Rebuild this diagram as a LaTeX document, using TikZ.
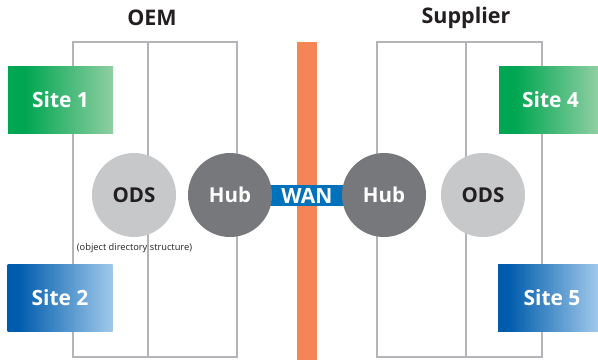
\documentclass[tikz,border=0pt]{standalone}
\usepackage{fontspec}
\setmainfont{Open Sans}
\definecolor{grline}{HTML}{B3B4B7}
\definecolor{odsgray}{HTML}{C7C8CA}
\definecolor{hubgray}{HTML}{77787B}
\definecolor{wallor}{HTML}{F58554}
\definecolor{wanblue}{HTML}{0072BC}
\definecolor{txtdark}{HTML}{231F20}
\pgfdeclarehorizontalshading{greensh}{100bp}{color(0bp)=(rgb,255:red,0;green,166;blue,81); color(33bp)=(rgb,255:red,0;green,166;blue,81); color(75bp)=(rgb,255:red,143;green,207;blue,162); color(100bp)=(rgb,255:red,143;green,207;blue,162)}
\pgfdeclarehorizontalshading{bluesh}{100bp}{color(0bp)=(rgb,255:red,0;green,87;blue,168); color(30bp)=(rgb,255:red,0;green,92;blue,172); color(75bp)=(rgb,255:red,160;green,201;blue,235); color(100bp)=(rgb,255:red,160;green,201;blue,235)}
\begin{document}
\begin{tikzpicture}[x=1pt,y=-1pt,
  frame/.style={draw=grline, line width=1.8pt},
  sitebox/.style={rectangle, minimum width=105pt, minimum height=67pt, inner sep=0pt, text=white, font=\fontsize{21}{21}\selectfont\bfseries},
  greenbox/.style={sitebox, shading=greensh},
  bluebox/.style={sitebox, shading=bluesh},
  circ/.style={circle, minimum size=84pt, inner sep=0pt, font=\fontsize{20.5}{20.5}\selectfont\bfseries},
  odsnode/.style={circ, fill=odsgray, text=txtdark},
  hubnode/.style={circ, fill=hubgray, text=white},
  title/.style={font=\fontsize{21.5}{21.5}\selectfont\bfseries, text=txtdark, inner sep=0pt}
]
\useasboundingbox (0,0) rectangle (598,360);
% titles
\node[title] (oem) at (152,18) {OEM};
\node[title] (sup) at (466,18) {Supplier};
% orange wall
\fill[wallor] (297,42) rectangle (317,360);
% frames
\draw[frame] (73,42) rectangle (237,357);
\draw[frame] (148,42) -- (148,357);
\draw[frame] (377,42) rectangle (542,357);
\draw[frame] (466,42) -- (466,357);
% WAN
\node[fill=wanblue, minimum width=90pt, minimum height=21pt, inner sep=0pt, text=white, font=\fontsize{21}{21}\selectfont\bfseries] (wan) at (307,195.5) {WAN};
% circles
\node[odsnode] (ods1) at (134,195) {ODS};
\node[hubnode] (hub1) at (230,195) {Hub};
\node[hubnode] (hub2) at (384,195) {Hub};
\node[odsnode] (ods2) at (483,195) {ODS};
\node[font=\fontsize{9.3}{9.3}\selectfont, text=txtdark, inner sep=0pt] (odsnote) at (134.5,248) {(object directory structure)};
% sites
\node[greenbox] (s1) at (60.5,99.5) {Site 1};
\node[bluebox] (s2) at (60,298) {Site 2};
\node[greenbox, minimum width=99pt] (s4) at (548.5,99.5) {\hspace*{4pt}Site 4};
\node[bluebox, minimum width=100pt] (s5) at (548,298) {\hspace*{8pt}Site 5};
\end{tikzpicture}
\end{document}
